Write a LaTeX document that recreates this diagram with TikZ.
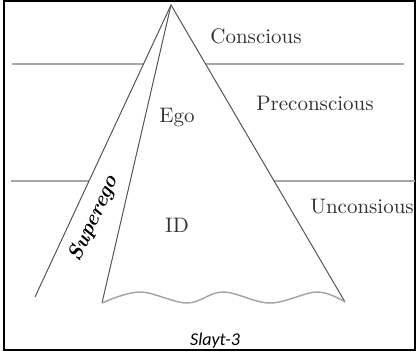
\documentclass[tikz,border=0pt]{standalone}
\usepackage{fontspec}
\newfontfamily\slidefont{Carlito}
\usetikzlibrary{positioning}
\definecolor{psyEdge}{HTML}{555555}
\definecolor{psyLevel}{HTML}{A6A6A6}

\begin{document}
\begin{tikzpicture}[x=0.5pt, y=-0.5pt,
  every node/.style={font=\fontsize{10.5}{12}\selectfont, inner sep=0pt, text=black!80},
  level/.style={draw=psyLevel, line width=0.75pt},
  edge/.style={draw=psyEdge, line width=0.5pt},
  frame/.style={draw=black, line width=1pt}
]
  \useasboundingbox (0,0) rectangle (417,353);
  \draw[frame] (4,1) rectangle (415,350);

  % iceberg corners
  \coordinate (apex) at (171,5);
  \coordinate (sego) at (35,297);
  \coordinate (idl)  at (102,303);
  \coordinate (idr)  at (345,302);

  % awareness levels
  \draw[level] (12,64) -- (143.5,64);
  \draw[level] (205.5,64) -- (404,64);
  \draw[level] (11,181) -- (89,181);
  \draw[level] (274,181) -- (415,181);

  \draw[edge] (sego) -- (apex) -- (idr);
  \draw[edge] (apex) -- (idl);
  \draw[level] plot[smooth, tension=0.6] coordinates
    {(idl) (140,292) (187,303) (223,292) (270,303) (317,292) (idr)};

  \node (cons)  at (256,36)  {Conscious};
  \node (pre)   at (315,103) {Preconscious};
  \node (uncon) at (362,207) {Unconsious};
  \node (ego)   at (177,118) {Ego};
  \node (id)    at (177,225) {ID};
  \node[rotate=65, font=\fontsize{10.5}{12}\selectfont\bfseries\itshape, text=black]
    (super) at (94,219) {Superego};
  \node[font=\slidefont\itshape\fontsize{9}{11}\selectfont, text=black]
    (slide) at (215,341) {Slayt-3};
\end{tikzpicture}
\end{document}
